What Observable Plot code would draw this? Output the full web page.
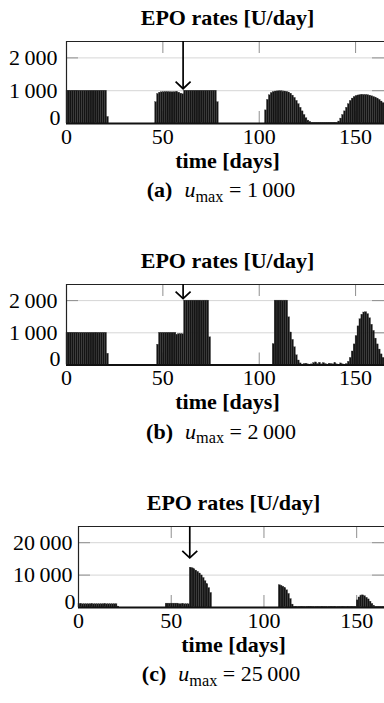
<!DOCTYPE html>
<html><head><meta charset="utf-8">
<script src="https://cdn.jsdelivr.net/npm/d3@7"></script>
<script src="https://cdn.jsdelivr.net/npm/@observablehq/plot@0.6"></script>
<style>
html,body{margin:0;padding:0;background:#fff;}
#wrap{position:relative;width:384px;height:703px;overflow:hidden;font-family:"Liberation Serif","Times New Roman",serif;}
.panel{position:absolute;left:0;}
.cap{position:absolute;left:0;width:442px;text-align:center;font-size:22px;line-height:26px;white-space:nowrap;color:#000;font-family:"Liberation Serif","Times New Roman",serif;}
.cap b{margin-right:0.55em;}
.cap sub{font-size:0.74em;vertical-align:baseline;position:relative;top:0.28em;}
svg text{font-family:"Liberation Serif","Times New Roman",serif;}
</style></head><body><div id="wrap"></div>
<script>
// ---- data ----
const days = d3.range(0, 166);
const xTicks = [0, 50, 100, 150];
const panelTitle = "EPO rates [U/day]";
const xLabel = "time [days]";
const captionLetters = ["(a)", "(b)", "(c)"];
const umaxLabels = ["1\u2009000", "2\u2009000", "25\u2009000"];
const yTicksList = [[0, 1000, 2000], [0, 1000, 2000], [0, 10000, 20000]];
const yMaxList = [2500, 2500, 25000];
const arrowDays = [60.5, 60.5, 60];
const arrowTips = [1060, 2060, 15300];

const uA = [
1000,1000,1000,1000,1000,1000,1000,1000,1000,1000,
1000,1000,1000,1000,1000,1000,1000,1000,1000,1000,
1000,200,0,0,0,0,0,0,0,0,
0,0,0,0,0,0,0,0,0,0,
0,0,0,0,0,0,650,900,940,950,
955,960,960,955,950,950,955,960,940,910,
890,1000,1000,1000,1000,1000,1000,1000,1000,1000,
1000,1000,1000,1000,1000,1000,1000,1000,650,0,
0,0,0,0,0,0,0,0,0,0,
0,0,0,0,0,0,0,0,0,0,
0,0,0,400,720,860,930,960,975,980,
985,985,980,975,965,945,910,850,780,690,
590,480,370,260,160,90,50,20,20,20,
20,20,20,20,20,20,20,20,20,20,
20,60,150,260,370,480,590,690,760,810,
840,855,865,870,872,870,865,850,830,810,
790,760,720,670,620,580];

const uB = [
1000,1000,1000,1000,1000,1000,1000,1000,1000,1000,
1000,1000,1000,1000,1000,1000,1000,1000,1000,1000,
1000,350,0,0,0,0,0,0,0,0,
0,0,0,0,0,0,0,0,0,0,
0,0,0,0,0,0,0,630,1000,1000,
1000,1000,1000,1000,1000,1000,1000,940,960,960,
955,2000,2000,2000,2000,2000,2000,2000,2000,2000,
2000,2000,2000,2000,860,0,0,0,0,0,
0,0,0,0,0,0,0,0,0,0,
0,0,0,0,0,0,0,0,0,0,
0,0,0,0,0,0,0,650,2000,2000,
2000,2000,2000,2000,2000,1480,1010,780,550,300,
140,50,10,30,40,20,10,20,60,80,
30,70,20,60,30,10,40,30,20,60,
20,10,50,20,10,30,100,220,420,640,
900,1200,1420,1560,1630,1640,1580,1450,1250,1060,
820,640,480,330,220,150];

const uC = [
1000,1000,1000,1000,1000,1000,1000,1000,1000,1000,
1000,1000,1000,1000,1000,1000,1000,1000,1000,1000,
1000,300,0,0,0,0,0,0,0,0,
0,0,0,0,0,0,0,0,0,0,
0,0,0,0,0,0,0,1200,1200,1200,
1200,1200,1200,1200,1000,1000,1000,1000,1000,1000,
12300,12100,11800,11400,11000,10500,9900,9100,8100,7200,
6000,4500,0,0,0,0,0,0,0,0,
0,0,0,0,0,0,0,0,0,0,
0,0,0,0,0,0,0,0,0,0,
0,0,0,0,0,0,0,0,6900,6700,
6400,6000,5300,4200,2600,900,200,200,150,200,
250,200,150,200,200,250,200,150,200,200,
150,250,200,200,150,200,250,200,200,150,
200,200,250,200,150,200,200,250,200,200,
2200,3100,3700,3750,3500,3000,2500,1800,1100,500,
200,200,200,200,200,200];

const seriesList = [uA, uB, uC];

// ---- layout ----
const W = 384;
const frameTops = [41, 284, 526];
const baselines = [123, 364.5, 607];
const marginLefts = [66, 66, 78];
const labelPads = [9, 9, 6];
const FONT = "Liberation Serif";

const vHead = {
  draw(ctx, size) {
    const r = Math.sqrt(size / Math.PI);
    ctx.moveTo(-r, -0.95 * r);
    ctx.lineTo(0, 0);
    ctx.lineTo(r, -0.95 * r);
  }
};
const fmt = v => d3.format(",")(v).replace(/,/g, "\u2009");

const wrap = document.getElementById("wrap");

for (let i = 0; i < 3; i++) {
  const vals = seriesList[i];
  const data = days.map((d, k) => ({day: d, v: vals[k]}));
  const mt = 41, mb = 60;
  const ph = baselines[i] - frameTops[i];
  const ml = marginLefts[i];
  const pw = W - ml;
  const yMax = yMaxList[i];
  const ticks = yTicksList[i];
  const nz = ticks.filter(t => t > 0);
  const xt = xTicks.filter(t => t > 0);
  const grayTick = "#8f8f8f";
  const txt = {fill: "#000", fontFamily: FONT, fontSize: 22, lineAnchor: "middle"};
  const svg = Plot.plot({
    width: W, height: mt + ph + mb,
    marginTop: mt, marginBottom: mb, marginLeft: ml, marginRight: 0,
    x: {domain: [0, 165], axis: null},
    y: {domain: [0, yMax], axis: null},
    style: {fontFamily: FONT, fontSize: "22px", background: "transparent", overflow: "visible", color: "#000"},
    marks: [
      Plot.ruleY(nz, {stroke: "#d6d6d6", strokeWidth: 1}),
      Plot.ruleY(nz, {stroke: grayTick, strokeWidth: 1, insetRight: pw - 12}),
      Plot.ruleY(nz, {stroke: grayTick, strokeWidth: 1, insetLeft: pw - 12}),
      Plot.ruleX(xt, {stroke: grayTick, strokeWidth: 1, insetBottom: ph - 12}),
      Plot.ruleX(xt, {stroke: grayTick, strokeWidth: 1, insetTop: ph - 12}),
      Plot.rectY(data, {x1: "day", x2: d => d.day + 1, y: "v", fill: "#141414", stroke: "#3a3a3a", strokeWidth: 0.3}),
      Plot.ruleY([0], {stroke: "#111", strokeWidth: 2}),
      Plot.ruleY([yMax], {stroke: "#222", strokeWidth: 1.2}),
      Plot.ruleX([0], {stroke: "#222", strokeWidth: 1.2}),
      Plot.ruleX([{x: arrowDays[i], y1: arrowTips[i], y2: yMax}], {x: "x", y1: "y1", y2: "y2", stroke: "#000", strokeWidth: 1.7}),
      Plot.dot([{x: arrowDays[i], y: arrowTips[i]}], {x: "x", y: "y", symbol: vHead, r: 7.5, stroke: "#000", strokeWidth: 1.7, fill: "none"}),
      Plot.text(nz, {...txt, y: d => d, frameAnchor: "left", textAnchor: "end", dx: -labelPads[i], text: fmt}),
      Plot.text([0], {...txt, y: d => d, frameAnchor: "left", textAnchor: "end", dx: -labelPads[i] + 3, dy: -6, text: fmt}),
      Plot.text(xTicks, {...txt, x: d => d, frameAnchor: "bottom", dy: 13, text: d => String(d)}),
      Plot.text([panelTitle], {...txt, frameAnchor: "top", dy: -24, dx: 2, fontWeight: "bold", text: d => d}),
      Plot.text([xLabel], {...txt, frameAnchor: "bottom", dy: 37, dx: 2, fontWeight: "bold", text: d => d})
    ]
  });
  const div = document.createElement("div");
  div.className = "panel";
  div.style.top = (frameTops[i] - mt) + "px";
  div.appendChild(svg);
  wrap.appendChild(div);

  const cap = document.createElement("div");
  cap.className = "cap";
  cap.style.top = (baselines[i] + 67 - 13) + "px";
  cap.innerHTML = `<b>${captionLetters[i]}</b><i>u</i><sub>max</sub> = ${umaxLabels[i]}`;
  wrap.appendChild(cap);
}
</script>
</body></html>
